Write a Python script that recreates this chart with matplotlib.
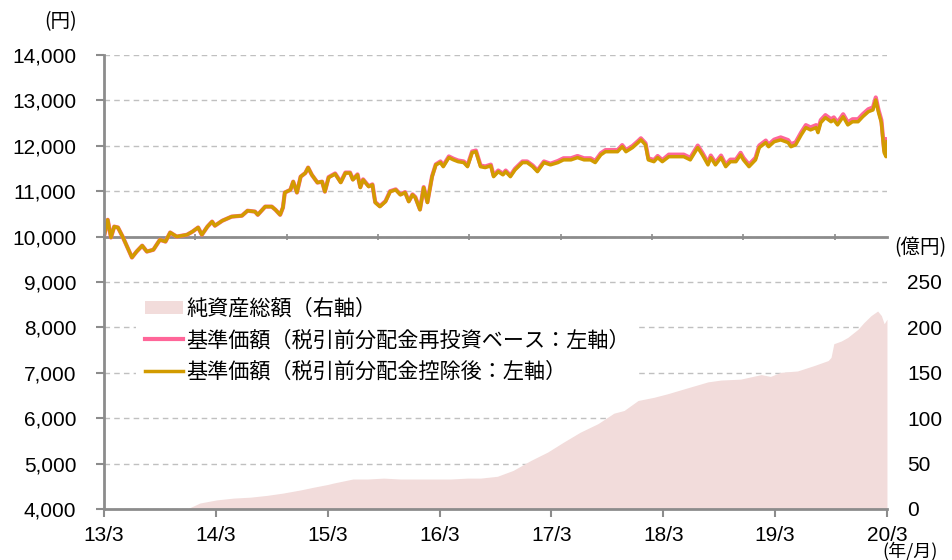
import numpy as np
import matplotlib.pyplot as plt
from matplotlib.ticker import FuncFormatter

# 基準価額（税引前分配金控除後）: months since 2013/3, yen
nav_month = [0.0, 0.4, 0.75, 1.1, 1.5, 2.0, 3.0, 3.5, 4.1, 4.6, 5.3, 6.0, 6.6, 7.1, 7.8, 8.9,
             9.5, 10.1, 10.5, 11.1, 11.6, 11.9, 12.7, 13.7, 14.8, 15.4, 16.2, 16.5, 17.3, 18.0,
             18.4, 18.9, 19.2, 19.4, 20.0, 20.3, 20.7, 21.1, 21.6, 21.9, 22.3, 22.9, 23.4, 23.7,
             24.1, 24.8, 25.4, 25.9, 26.4, 26.7, 27.2, 27.5, 27.8, 28.4, 28.8, 29.1, 29.6, 30.2,
             30.7, 31.3, 31.8, 32.3, 32.7, 33.1, 33.4, 33.9, 34.3, 34.7, 35.2, 35.6, 36.1, 36.4,
             37.0, 37.5, 38.0, 38.6, 39.0, 39.5, 39.9, 40.4, 40.9, 41.5, 41.8, 42.3, 42.8, 43.1,
             43.6, 44.1, 44.9, 45.4, 46.0, 46.5, 47.2, 47.9, 48.7, 49.3, 50.1, 50.8, 51.5, 52.2,
             52.7, 53.3, 53.8, 54.6, 55.1, 55.6, 56.0, 56.7, 57.3, 57.6, 58.1, 58.4, 59.0, 59.4,
             59.9, 60.6, 61.1, 61.9, 62.2, 62.9, 63.7, 64.2, 64.8, 65.1, 65.6, 66.2, 66.7, 67.2,
             67.8, 68.3, 68.6, 69.2, 69.9, 70.3, 71.0, 71.3, 71.9, 72.6, 73.4, 73.7, 74.2, 74.8,
             75.3, 75.8, 76.4, 76.6, 76.9, 77.4, 78.0, 78.3, 78.7, 79.3, 79.8, 80.3, 80.9, 81.4,
             82.0, 82.5, 82.8, 83.1, 83.4, 83.7, 83.9, 84.0]
nav_after = [10000, 10370, 9980, 10220, 10200, 10000, 9540, 9670, 9800, 9670, 9710, 9930, 9890, 10090, 10000, 10040,
             10110, 10200, 10040, 10220, 10330, 10240, 10350, 10440, 10460, 10570, 10550, 10480, 10660, 10660,
             10590, 10480, 10640, 10970, 11030, 11210, 10970, 11320, 11400, 11520, 11360, 11190, 11210, 10990,
             11300, 11380, 11190, 11400, 11400, 11250, 11360, 11080, 11250, 11100, 11140, 10750, 10660, 10770,
             10990, 11030, 10920, 10970, 10770, 10920, 10860, 10590, 11080, 10750, 11320, 11580, 11630, 11540,
             11740, 11690, 11650, 11630, 11540, 11850, 11870, 11540, 11520, 11560, 11320, 11430, 11360, 11430,
             11320, 11470, 11630, 11630, 11540, 11430, 11630, 11580, 11630, 11690, 11690, 11740, 11690, 11690,
             11630, 11800, 11870, 11870, 11870, 11980, 11870, 11960, 12070, 12130, 12020, 11690, 11650, 11740,
             11650, 11760, 11760, 11760, 11760, 11690, 11960, 11800, 11580, 11740, 11580, 11740, 11540, 11650,
             11650, 11800, 11690, 11540, 11690, 11960, 12070, 11980, 12090, 12130, 12070, 11980, 12020, 12240,
             12400, 12350, 12400, 12290, 12510, 12620, 12530, 12570, 12460, 12640, 12460, 12530, 12530, 12640,
             12750, 12790, 13010, 12730, 12510, 11850, 11760, 12090]

# 分配金（税引前）: months since 2013/3, yen
dist_month = [24, 36, 48, 60, 72]
dist_yen = [10, 15, 10, 10, 10]

# 純資産総額: months since 2013/3, 億円
aum_month = [0.0, 8.9, 10.3, 12.1, 13.9, 15.7, 17.5, 19.2, 21.1, 22.5, 24.0, 24.6, 26.7, 28.3,
             30.0, 31.8, 33.6, 35.3, 37.2, 39.0, 40.4, 42.2, 43.9, 45.8, 47.6, 49.3, 51.1, 53.0,
             54.7, 55.8, 57.3, 59.0, 60.5, 62.6, 64.8, 66.2, 68.3, 70.5, 71.5, 72.6, 74.4, 76.2,
             77.7, 78.0, 78.3, 79.1, 79.8, 80.9, 81.5, 82.3, 83.0, 83.4, 83.7, 84.0]
aum = [0, 0, 6.6, 10, 12, 13, 15, 17.5, 21, 24, 27, 28.5, 33, 33,
       34, 33, 33, 33, 33, 34, 34, 36, 42.5, 53.5, 62.7, 73.6, 84.6, 94,
       105.5, 108.5, 119.5, 123, 127, 133.4, 140, 142, 143, 148, 146, 150.5, 152, 158,
       163.5, 167, 182, 185, 189, 198, 205, 213, 218, 213, 204, 209]

year_ticks = [0, 12, 24, 36, 48, 60, 72, 84]
year_labels = ["13/3", "14/3", "15/3", "16/3", "17/3", "18/3", "19/3", "20/3"]

nav_month = np.array(nav_month)
nav_after = np.array(nav_after, dtype=float)
cum_dist = np.array([sum(d for m, d in zip(dist_month, dist_yen) if m <= x) for x in nav_month])
nav_reinvest = nav_after + cum_dist

LAT = ["Liberation Sans", "Noto Sans CJK JP"]
JP = ["Noto Sans CJK JP", "DejaVu Sans"]
GRAY = "#8c8c8c"

fig = plt.figure(figsize=(9.53, 5.60), dpi=100)
ax2 = fig.add_axes([0.1091, 0.0911, 0.8216, 0.8107])
ax = ax2.twinx()
ax3 = ax.twiny()

# right axis: 純資産総額 (area)
ax2.fill_between(aum_month, aum, 0, color="#F2DCDB", lw=0)
ax2.set_ylim(0, 500)
ax2.set_xlim(0, 84)
ax2.set_axisbelow(True)
ax2.set_yticks(np.arange(0, 501, 50))
ax2.yaxis.set_major_formatter(FuncFormatter(lambda v, p: f"{v:.0f}" if v <= 250 else ""))
ax2.yaxis.tick_right()
ax2.yaxis.grid(True, color="#c0c0c0", lw=1.0, ls=(0, (4, 3)))
ax2.tick_params(axis="y", length=0, pad=14.5, labelsize=15)
ax2.tick_params(axis="x", bottom=False, labelbottom=False)
for lab in ax2.get_yticklabels():
    lab.set_family(LAT)
for s in ax2.spines.values():
    s.set_visible(False)

# left axis: 基準価額
ax.xaxis.set_visible(True)
ax.yaxis.tick_left()
ax.yaxis.set_label_position("left")
ax.set_zorder(ax2.get_zorder() + 2)
ax.patch.set_visible(False)
ax.plot(nav_month, nav_reinvest, color="#FF6699", lw=3.0, solid_joinstyle="round",
        label="基準価額（税引前分配金再投資ベース：左軸）")
ax.plot(nav_month, nav_after, color="#D29B00", lw=2.5, solid_joinstyle="round",
        label="基準価額（税引前分配金控除後：左軸）")
ax.set_ylim(4000, 14000)
ax.set_xlim(0, 84)
ax.set_yticks(np.arange(4000, 14001, 1000))
ax.yaxis.set_major_formatter(FuncFormatter(lambda v, p: f"{v:,.0f}"))
ax.set_xticks(year_ticks)
ax.set_xticklabels(year_labels)
ax.tick_params(axis="y", direction="out", length=6, width=1.5, color=GRAY, pad=14, labelsize=15)
ax.tick_params(axis="x", direction="out", length=6, width=1.5, color=GRAY, pad=6, labelsize=15,
               bottom=True, labelbottom=True, top=False, labeltop=False)
for lab in ax.get_yticklabels() + ax.get_xticklabels():
    lab.set_family(LAT)
for side in ["top", "right"]:
    ax.spines[side].set_visible(False)
for side in ["left", "bottom"]:
    ax.spines[side].set_color(GRAY)
    ax.spines[side].set_linewidth(2)

# the 10,000 yen line with its own tick marks
ax3.set_zorder(ax2.get_zorder() + 1)
ax3.patch.set_visible(False)
ax3.set_xlim(0, 84)
for side in ["top", "left", "right"]:
    ax3.spines[side].set_visible(False)
ax3.spines["bottom"].set_position(("data", 10000))
ax3.spines["bottom"].set_color(GRAY)
ax3.spines["bottom"].set_linewidth(2)
ax3.xaxis.set_ticks_position("bottom")
ax3.set_xticks(np.arange(0, 84, 9.8))
ax3.tick_params(axis="x", direction="inout", length=5, width=1.2, color=GRAY, labelbottom=False)
ax3.tick_params(axis="y", left=False, right=False, labelleft=False, labelright=False)

# legend
area_proxy = plt.Rectangle((0, 0), 1, 1, facecolor="#F2DCDB", edgecolor="none")
h, l = ax.get_legend_handles_labels()
leg = ax.legend([area_proxy] + h, ["純資産総額（右軸）"] + l, loc="upper left",
                bbox_to_anchor=(0.027, 0.509), frameon=True, facecolor="white",
                edgecolor="none", framealpha=1, fancybox=False, handlelength=1.8,
                handleheight=0.6, handletextpad=0.15, labelspacing=0.45, borderpad=0.45,
                prop={"family": JP, "size": 15.2})

ax.text(-0.055, 1.073, "(円)", transform=ax.transAxes, ha="center", va="center",
        family=JP, fontsize=14)
ax.text(1.043, 0.575, "(億円)", transform=ax.transAxes, ha="center", va="center",
        family=JP, fontsize=14)
ax.text(1.03, -0.093, "(年/月)", transform=ax.transAxes, ha="center", va="center",
        family=JP, fontsize=13)

fig.savefig("out.png", dpi=100)
